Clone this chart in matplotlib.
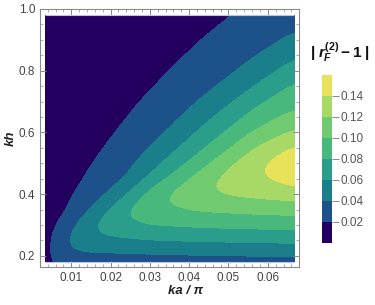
import matplotlib
matplotlib.use("Agg")
import matplotlib.pyplot as plt
import numpy as np
from matplotlib.cm import ScalarMappable
from matplotlib.colors import BoundaryNorm, ListedColormap
from matplotlib.patches import Rectangle
from matplotlib.ticker import FixedLocator, FormatStrFormatter, MultipleLocator, NullLocator

# evenly spaced grid
ka_pi = [0.00333, 0.00861, 0.01389, 0.01917, 0.02444, 0.02972, 0.03500,
         0.04028, 0.04556, 0.05083, 0.05611, 0.06139, 0.06667]
kh = [0.18, 0.22, 0.26, 0.30, 0.34, 0.38, 0.42, 0.46, 0.50, 0.54, 0.58,
      0.62, 0.66, 0.70, 0.74, 0.78, 0.82, 0.86, 0.90, 0.94, 0.98]

# |r_F^(2) - 1|, one row per kh value
deviation = [
    [0.0160, 0.0240, 0.0260, 0.0270, 0.0278, 0.0285, 0.0290, 0.0300, 0.0305, 0.0310, 0.0310, 0.0315, 0.0320],
    [0.0120, 0.0395, 0.0456, 0.0455, 0.0467, 0.0474, 0.0481, 0.0485, 0.0490, 0.0496, 0.0500, 0.0505, 0.0510],
    [0.0100, 0.0390, 0.0550, 0.0592, 0.0617, 0.0639, 0.0654, 0.0663, 0.0672, 0.0679, 0.0686, 0.0693, 0.0700],
    [0.0090, 0.0306, 0.0531, 0.0705, 0.0737, 0.0816, 0.0822, 0.0838, 0.0850, 0.0857, 0.0864, 0.0871, 0.0879],
    [0.0055, 0.0212, 0.0400, 0.0638, 0.0830, 0.0925, 0.0937, 0.0983, 0.1000, 0.1013, 0.1024, 0.1035, 0.1046],
    [0.0052, 0.0171, 0.0315, 0.0473, 0.0716, 0.0920, 0.1030, 0.1105, 0.1141, 0.1166, 0.1188, 0.1200, 0.1213],
    [0.0048, 0.0144, 0.0249, 0.0358, 0.0534, 0.0800, 0.0961, 0.1110, 0.1205, 0.1270, 0.1301, 0.1345, 0.1400],
    [0.0040, 0.0120, 0.0210, 0.0303, 0.0396, 0.0621, 0.0805, 0.0990, 0.1150, 0.1280, 0.1360, 0.1445, 0.1520],
    [0.0030, 0.0098, 0.0179, 0.0265, 0.0356, 0.0500, 0.0680, 0.0845, 0.1018, 0.1200, 0.1340, 0.1445, 0.1540],
    [0.0020, 0.0075, 0.0145, 0.0227, 0.0316, 0.0410, 0.0564, 0.0727, 0.0886, 0.1052, 0.1234, 0.1350, 0.1470],
    [0.0014, 0.0058, 0.0118, 0.0191, 0.0271, 0.0355, 0.0463, 0.0622, 0.0769, 0.0925, 0.1090, 0.1204, 0.1320],
    [0.0010, 0.0044, 0.0095, 0.0158, 0.0232, 0.0315, 0.0385, 0.0524, 0.0671, 0.0808, 0.0958, 0.1068, 0.1169],
    [0.0007, 0.0034, 0.0076, 0.0131, 0.0197, 0.0268, 0.0345, 0.0427, 0.0572, 0.0703, 0.0851, 0.0952, 0.1044],
    [0.0005, 0.0028, 0.0063, 0.0110, 0.0166, 0.0232, 0.0305, 0.0371, 0.0470, 0.0598, 0.0739, 0.0855, 0.0943],
    [0.0004, 0.0020, 0.0049, 0.0088, 0.0136, 0.0194, 0.0258, 0.0331, 0.0387, 0.0503, 0.0625, 0.0753, 0.0857],
    [0.0003, 0.0016, 0.0038, 0.0071, 0.0112, 0.0163, 0.0222, 0.0291, 0.0347, 0.0407, 0.0526, 0.0641, 0.0763],
    [0.0002, 0.0011, 0.0029, 0.0056, 0.0091, 0.0135, 0.0187, 0.0245, 0.0307, 0.0362, 0.0432, 0.0541, 0.0656],
    [0.0001, 0.0010, 0.0025, 0.0047, 0.0077, 0.0113, 0.0157, 0.0208, 0.0262, 0.0321, 0.0369, 0.0447, 0.0556],
    [0.0001, 0.0008, 0.0021, 0.0040, 0.0065, 0.0096, 0.0134, 0.0177, 0.0226, 0.0280, 0.0321, 0.0371, 0.0463],
    [0.0002, 0.0011, 0.0025, 0.0044, 0.0066, 0.0092, 0.0121, 0.0154, 0.0190, 0.0233, 0.0279, 0.0325, 0.0371],
    [0.0005, 0.0019, 0.0035, 0.0054, 0.0075, 0.0097, 0.0121, 0.0145, 0.0171, 0.0198, 0.0226, 0.0253, 0.0280],
]

levels = [0.0, 0.02, 0.04, 0.06, 0.08, 0.10, 0.12, 0.14, 0.16]
cbar_ticks = [0.02, 0.04, 0.06, 0.08, 0.10, 0.12, 0.14]
x_ticks = [0.01, 0.02, 0.03, 0.04, 0.05, 0.06]
y_ticks = [0.2, 0.4, 0.6, 0.8, 1.0]

band_colors = ["#23005f", "#1c5189", "#1b7e8b", "#2a9e8a", "#49b87d",
               "#70ca6f", "#a8d967", "#e8e25a"]

plt.rcParams["font.family"] = ["Liberation Sans", "DejaVu Sans"]
plt.rcParams["mathtext.fontset"] = "custom"
plt.rcParams["mathtext.rm"] = "Liberation Sans:bold"
plt.rcParams["mathtext.it"] = "Liberation Sans:bold:italic"

fig = plt.figure(figsize=(3.75, 3.05), dpi=100)
ax = fig.add_axes([0.1067, 0.1246, 0.6907, 0.8459])

cmap = ListedColormap(band_colors)
norm = BoundaryNorm(levels, cmap.N)

# smooth banded field: the image is resampled in data space, then binned
dx = (ka_pi[-1] - ka_pi[0]) / (len(ka_pi) - 1)
dy = (kh[-1] - kh[0]) / (len(kh) - 1)
img = ax.imshow(np.array(deviation), origin="lower", aspect="auto",
                cmap=cmap, norm=norm, interpolation="bicubic",
                interpolation_stage="data",
                extent=(ka_pi[0] - dx / 2, ka_pi[-1] + dx / 2,
                        kh[0] - dy / 2, kh[-1] + dy / 2))
data_box = Rectangle((ka_pi[0], kh[0]), ka_pi[-1] - ka_pi[0], kh[-1] - kh[0],
                     transform=ax.transData, facecolor="none", edgecolor="none")
ax.add_patch(data_box)
img.set_clip_path(data_box)
ax.hlines([kh[0], kh[-1]], ka_pi[0], ka_pi[-1], colors="#b9c4e4", linewidth=0.8)

ax.set_xlim(0.00206, 0.06794)
ax.set_ylim(0.164, 0.996)

frame_gray = "#8a8a8a"
for side in ax.spines.values():
    side.set_color(frame_gray)
    side.set_linewidth(0.8)

ax.set_xticks(x_ticks)
ax.set_yticks(y_ticks)
ax.xaxis.set_minor_locator(MultipleLocator(0.002))
ax.yaxis.set_minor_locator(MultipleLocator(0.05))
ax.xaxis.set_major_formatter(FormatStrFormatter("%.2f"))
ax.yaxis.set_major_formatter(FormatStrFormatter("%.1f"))
ax.tick_params(which="both", direction="in", top=True, right=True,
               color=frame_gray, labelcolor="#444444", labelsize=8.5)
ax.tick_params(which="major", length=4, width=0.7)
ax.tick_params(which="minor", length=2, width=0.5)

ax.set_xlabel("ka / \u03c0", fontsize=9.5, fontweight="bold", style="italic",
              color="#222222")
ax.set_ylabel("kh", fontsize=9.5, fontweight="bold", style="italic",
              color="#222222")
ax.xaxis.set_label_coords(0.56, -0.07)
ax.yaxis.set_label_coords(-0.09, 0.5)

cax = fig.add_axes([0.8587, 0.2033, 0.0267, 0.551])
cbar = fig.colorbar(ScalarMappable(norm=norm, cmap=cmap), cax=cax, ticks=cbar_ticks)
cbar.outline.set_visible(False)
cbar.ax.yaxis.set_major_locator(FixedLocator(cbar_ticks))
cbar.ax.yaxis.set_minor_locator(NullLocator())
cbar.ax.yaxis.set_major_formatter(FormatStrFormatter("%.2f"))
cbar.ax.tick_params(direction="out", length=5, width=0.6, color="#777777",
                    labelcolor="#555555", labelsize=8.5, pad=1)

fig.text(0.906, 0.828, r"$|\;r_{F}^{(2)}-1\;|$", fontsize=11,
         ha="center", va="center", color="#111111")

fig.savefig("out.png", dpi=100)
